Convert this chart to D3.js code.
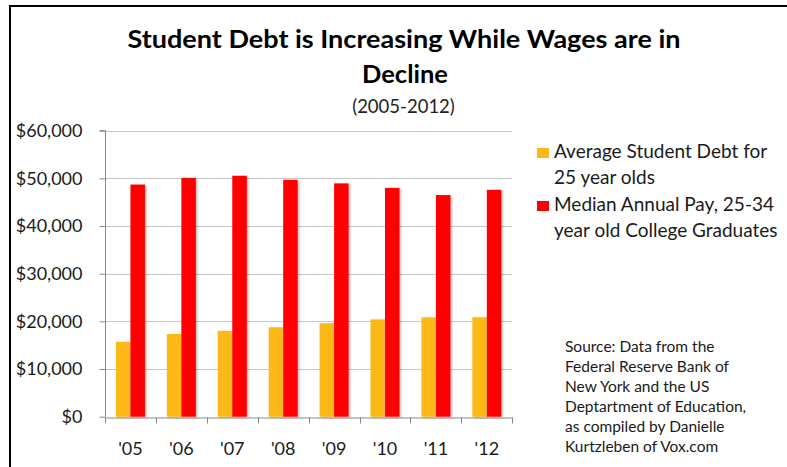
<!DOCTYPE html>
<html>
<head>
<meta charset="utf-8">
<script src="https://cdn.jsdelivr.net/npm/d3@7"></script>
<style>
  html, body { margin: 0; padding: 0; background: #fff; }
  svg { display: block; font-family: Lato, "Open Sans", sans-serif; }
</style>
</head>
<body>
<svg id="chart" width="787" height="467"></svg>
<script>
// Years on the category axis
const years = ["'05", "'06", "'07", "'08", "'09", "'10", "'11", "'12"];
// Average student debt for 25 year olds (USD)
const studentDebt = [15700, 17350, 18000, 18750, 19600, 20400, 20850, 20850];
// Median annual pay, 25-34 year old college graduates (USD)
const medianPay = [48700, 50100, 50550, 49700, 48950, 48000, 46500, 47600];
// Value-axis ticks
const yTicks = [0, 10000, 20000, 30000, 40000, 50000, 60000];
const seriesNames = ["Average Student Debt for 25 year olds",
                     "Median Annual Pay, 25-34 year old College Graduates"];
const seriesColors = ["#FCB813", "#FF0000"];
const legendLines = [["Average Student Debt for", "25 year olds"],
                     ["Median Annual Pay, 25-34", "year old College Graduates"]];
const sourceLines = ["Source: Data from the", "Federal Reserve Bank of", "New York and the US",
                     "Deptartment of Education,", "as compiled by Danielle", "Kurtzleben of Vox.com"];

const svg = d3.select("#chart");

// Frame lines (top and left)
svg.append("line").attr("x1", 10).attr("x2", 787).attr("y1", 6).attr("y2", 6)
  .attr("stroke", "#000").attr("stroke-width", 2);
svg.append("line").attr("x1", 10).attr("x2", 10).attr("y1", 5).attr("y2", 467)
  .attr("stroke", "#000").attr("stroke-width", 2);

// Titles
svg.append("text").attr("x", 404).attr("y", 48).attr("text-anchor", "middle")
  .attr("font-weight", "bold").attr("font-size", 25.5).attr("fill", "#000")
  .attr("textLength", 553).attr("lengthAdjust", "spacingAndGlyphs")
  .text("Student Debt is Increasing While Wages are in");
svg.append("text").attr("x", 405).attr("y", 83).attr("text-anchor", "middle")
  .attr("font-weight", "bold").attr("font-size", 25.5).attr("fill", "#000")
  .text("Decline");
svg.append("text").attr("x", 403.5).attr("y", 113).attr("text-anchor", "middle")
  .attr("font-size", 18.5).attr("fill", "#222")
  .text("(2005-2012)");

// Scales
const plot = { left: 105, right: 512.3, top: 130.7, bottom: 416.7 };
const x0 = d3.scaleBand().domain(years).range([plot.left, plot.right]).padding(0);
const x1 = d3.scaleBand().domain([0, 1]).range([0, x0.bandwidth()])
  .paddingInner(0).paddingOuter(0.755);
const y = d3.scaleLinear().domain([0, 60000]).range([plot.bottom, plot.top]);

// Gridlines
svg.append("g").selectAll("line").data(yTicks.filter(d => d > 0)).join("line")
  .attr("x1", plot.left).attr("x2", plot.right)
  .attr("y1", d => Math.round(y(d)) + 0.5).attr("y2", d => Math.round(y(d)) + 0.5)
  .attr("stroke", "#C8C8C8").attr("stroke-width", 1);

// Shadow for bars
const defs = svg.append("defs");
const f = defs.append("filter").attr("id", "shadow").attr("x", "-20%").attr("y", "-5%")
  .attr("width", "160%").attr("height", "115%");
f.append("feDropShadow").attr("dx", 1.5).attr("dy", 1).attr("stdDeviation", 1)
  .attr("flood-color", "#000").attr("flood-opacity", 0.28);

// Bars
const data = years.map((yr, i) => ({ yr, vals: [studentDebt[i], medianPay[i]] }));
const groups = svg.append("g").selectAll("g").data(data).join("g")
  .attr("transform", d => `translate(${x0(d.yr)},0)`);
groups.selectAll("rect").data(d => d.vals.map((v, k) => ({ v, k }))).join("rect")
  .attr("x", d => x1(d.k))
  .attr("width", x1.bandwidth())
  .attr("y", d => y(d.v))
  .attr("height", d => y(0) - y(d.v))
  .attr("fill", d => seriesColors[d.k])
  .attr("filter", "url(#shadow)");

// Y axis
const yAxis = d3.axisLeft(y).tickValues(yTicks).tickSize(6).tickPadding(17)
  .tickFormat(d => "$" + d3.format(",")(d));
const gy = svg.append("g").attr("transform", `translate(${plot.left + 0.5},0)`).call(yAxis);
gy.select(".domain").attr("stroke", "#888").attr("d", `M-6,${plot.top}H0V${plot.bottom}`);
gy.selectAll(".tick line").attr("stroke", "#888");
gy.selectAll(".tick text").attr("font-size", 18).attr("fill", "#1a1a1a")
  .attr("font-family", "Lato, sans-serif");

// X axis with ticks on category boundaries
const xAxis = d3.axisBottom(x0).tickSize(0).tickPadding(25);
const gx = svg.append("g").attr("transform", `translate(0,${Math.round(plot.bottom) + 0.5})`).call(xAxis);
gx.select(".domain").attr("stroke", "#888");
gx.selectAll(".tick text").attr("font-size", 18).attr("fill", "#1a1a1a")
  .attr("font-family", "Lato, sans-serif");
const bounds = years.map(d => x0(d)).concat([plot.right]);
gx.append("g").selectAll("line").data(bounds).join("line")
  .attr("x1", d => Math.round(d) + 0.5).attr("x2", d => Math.round(d) + 0.5)
  .attr("y1", 0).attr("y2", 6).attr("stroke", "#888");

// Legend
const legend = svg.append("g");
legendLines.forEach((lines, i) => {
  const by = 158 + i * 53;
  legend.append("rect").attr("x", 537).attr("y", by - 10).attr("width", 12).attr("height", 10)
    .attr("fill", seriesColors[i]);
  lines.forEach((t, j) => {
    legend.append("text").attr("x", 554).attr("y", by + j * 25.5)
      .attr("font-size", 19).attr("fill", "#1a1a1a").text(t);
  });
});

// Source note
sourceLines.forEach((t, j) => {
  svg.append("text").attr("x", 565).attr("y", 352 + j * 20)
    .attr("font-size", 15.5).attr("fill", "#1a1a1a").text(t);
});
</script>
</body>
</html>
